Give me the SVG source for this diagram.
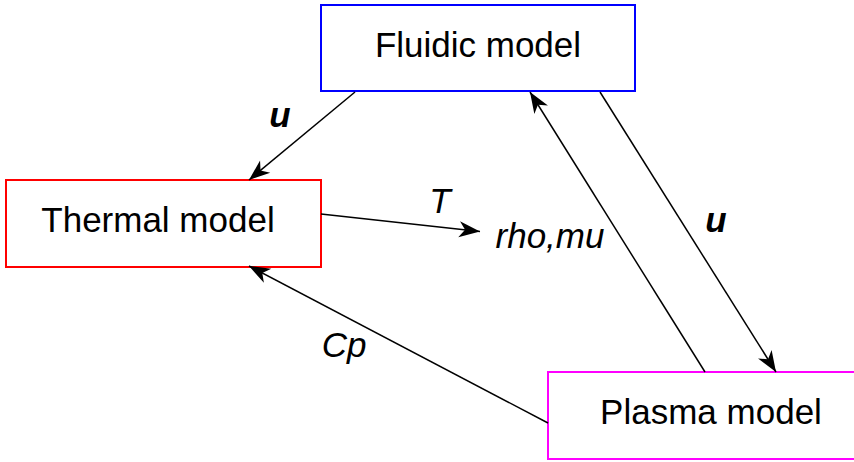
<svg xmlns="http://www.w3.org/2000/svg" width="854" height="462" viewBox="0 0 854 462">
  <style>
    .box { fill: #ffffff; stroke-width: 2; }
    .title { font-family: "Liberation Sans", Arial, sans-serif; font-size: 35px; fill: #000000; text-anchor: middle; }
    .lbl { font-family: "Liberation Sans", Arial, sans-serif; font-size: 35px; font-style: italic; fill: #000000; text-anchor: middle; }
    .bold { font-weight: bold; }
    .edge { stroke: #000000; stroke-width: 1.5; fill: none; marker-end: url(#head); }
  </style>
  <defs>
    <marker id="head" markerUnits="userSpaceOnUse" markerWidth="24" markerHeight="18" viewBox="-22 -9 24 18" refX="0" refY="0" orient="auto" overflow="visible">
      <path d="M0,0 L-21,-8 L-15,0 L-21,8 Z" fill="#000000"/>
    </marker>
  </defs>

  <rect width="854" height="462" fill="#ffffff"/>

  <g id="fluidic">
    <rect class="box" x="321" y="5" width="314" height="86" stroke="#0000ff"/>
    <text class="title" x="478" y="57">Fluidic model</text>
  </g>

  <g id="thermal">
    <rect class="box" x="6" y="180" width="315" height="87" stroke="#ff0000"/>
    <text class="title" x="158" y="232">Thermal model</text>
  </g>

  <g id="plasma">
    <rect class="box" x="548" y="372" width="312" height="87" stroke="#ff00ff"/>
    <text class="title" x="711" y="424">Plasma model</text>
  </g>

  <g id="connectors">
    <line class="edge" x1="355" y1="92" x2="249" y2="180"/>
    <line class="edge" x1="321" y1="214" x2="480" y2="231.5"/>
    <line class="edge" x1="705" y1="372" x2="530" y2="92"/>
    <line class="edge" x1="600" y1="92" x2="776" y2="372"/>
    <line class="edge" x1="548" y1="423" x2="249" y2="266"/>
  </g>

  <g id="labels">
    <text class="lbl bold" x="280" y="127">u</text>
    <text class="lbl" x="440" y="213">T</text>
    <text class="lbl" x="550" y="248">rho,mu</text>
    <text class="lbl bold" x="716" y="232">u</text>
    <text class="lbl" x="344" y="357">Cp</text>
  </g>
</svg>
